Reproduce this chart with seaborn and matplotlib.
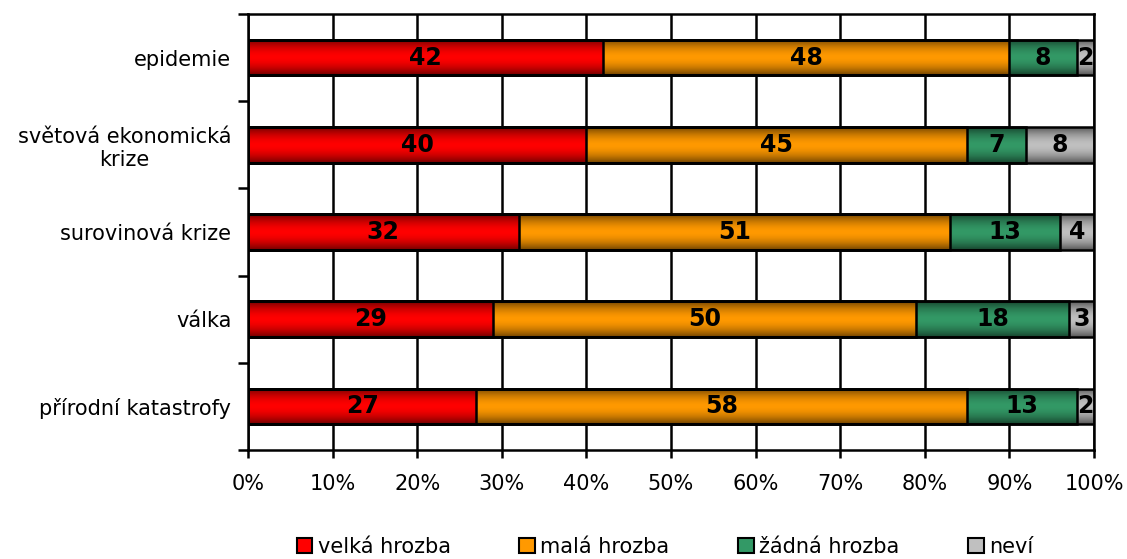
import numpy as np
import pandas as pd
import matplotlib
matplotlib.use("Agg")
import matplotlib.pyplot as plt
from matplotlib.patches import Patch
from matplotlib.colors import to_rgb
from matplotlib.ticker import FixedLocator, PercentFormatter
import seaborn as sns

sns.set_style("white")
plt.rcParams['font.family'] = ['DejaVu Sans']
plt.rcParams['text.color'] = 'black'
plt.rcParams['xtick.color'] = 'black'
plt.rcParams['ytick.color'] = 'black'

# data
categories = ['epidemie', 'světová ekonomická\nkrize', 'surovinová krize', 'válka', 'přírodní katastrofy']
series_names = ['velká hrozba', 'malá hrozba', 'žádná hrozba', 'neví']
velka = [42, 40, 32, 29, 27]
mala = [48, 45, 51, 50, 58]
zadna = [8, 7, 13, 18, 13]
nevi = [2, 8, 4, 3, 2]
colors = ['#FF0000', '#FF9900', '#339966', '#C0C0C0']

values = np.array([velka, mala, zadna, nevi])
cum = values.cumsum(axis=0)

fig, ax = plt.subplots(figsize=(11.27, 5.59), dpi=100)
fig.subplots_adjust(left=0.220, right=0.9707, top=0.975, bottom=0.195)

# stacked bars: draw the longest cumulative first
order = list(range(len(series_names) - 1, -1, -1))
for i in order:
    df = pd.DataFrame({'cat': categories, 'val': cum[i]})
    sns.barplot(data=df, x='val', y='cat', orient='h', color=colors[i],
                saturation=1, width=0.41, edgecolor='black', linewidth=1.8, ax=ax)

# shaded look: vertical gradient inside each bar, darker at top and bottom
t = np.linspace(0, 1, 64)
shade = 1 - 0.55 * np.abs(2 * t - 1) ** 1.8
n = len(categories)
for k, patch in enumerate(ax.patches):
    base = np.array(to_rgb(colors[order[k // n]]))
    grad = shade[:, None, None] * base[None, None, :]
    x0, y0 = patch.get_x(), patch.get_y()
    w, h = patch.get_width(), patch.get_height()
    im = ax.imshow(grad, extent=(x0, x0 + w, y0 + h, y0), aspect='auto',
                   interpolation='bilinear', zorder=2 + k * 0.01)
    im.set_clip_path(patch)
    patch.set_facecolor('none')
    patch.set_zorder(3)

ax.set_aspect('auto')

# value labels
for i in range(len(series_names)):
    left = cum[i] - values[i]
    for j, v in enumerate(values[i]):
        ax.text(left[j] + v / 2, j, str(v), ha='center', va='center',
                fontsize=17, fontweight='bold', color='black', zorder=4)

ax.set_xlim(0, 100)
ax.set_ylim(len(categories) - 0.5, -0.5)
ax.set_xlabel('')
ax.set_ylabel('')

ax.set_xticks(np.arange(0, 101, 10))
ax.xaxis.set_major_formatter(PercentFormatter(100, decimals=0))
ax.grid(axis='x', color='black', linewidth=1.8)
ax.set_axisbelow(True)

ax.tick_params(axis='x', direction='out', length=6, width=1.8, color='black',
               labelsize=15, pad=11, bottom=True, labelcolor='black')
ax.tick_params(axis='y', which='major', length=0, labelsize=15, pad=12, labelcolor='black')
ax.yaxis.set_minor_locator(FixedLocator(np.arange(-0.5, len(categories), 1)))
ax.tick_params(axis='y', which='minor', direction='out', length=7, width=1.8,
               color='black', left=True)
for lab in ax.get_yticklabels():
    lab.set_multialignment('center')

for s in ax.spines.values():
    s.set_color('black')
    s.set_linewidth(1.8)
    s.set_zorder(5)

handles = [Patch(facecolor=c, edgecolor='black', linewidth=1.5) for c in colors]
fig.legend(handles, series_names, loc='lower center', bbox_to_anchor=(0.59, -0.03),
           ncol=4, frameon=False, fontsize=15, handlelength=0.75, handleheight=0.75,
           handletextpad=0.25, columnspacing=3.3, labelcolor='black')

fig.savefig('out.png', dpi=100)
